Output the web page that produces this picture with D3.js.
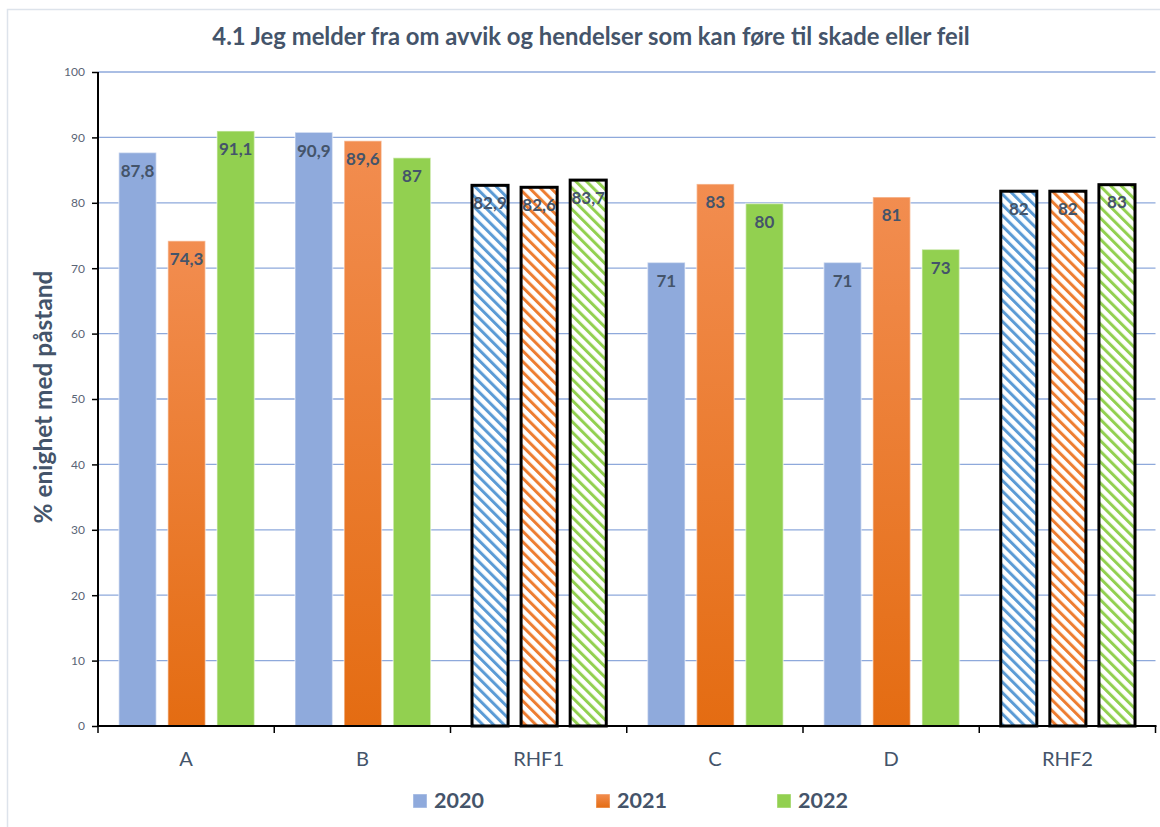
<!DOCTYPE html>
<html>
<head>
<meta charset="utf-8">
<script src="https://cdn.jsdelivr.net/npm/d3@7"></script>
<style>
  html, body { margin: 0; padding: 0; background: #fff; }
  svg { display: block; font-family: Lato, "Open Sans", sans-serif; }
</style>
</head>
<body>
<svg id="chart" width="1160" height="827"></svg>
<script>
const categories = ["A", "B", "RHF1", "C", "D", "RHF2"];
const hatchedCategories = ["RHF1", "RHF2"];
const years = ["2020", "2021", "2022"];
const values2020 = [87.8, 90.9, 82.9, 71, 71, 82];
const values2021 = [74.3, 89.6, 82.6, 83, 81, 82];
const values2022 = [91.1, 87, 83.7, 80, 73, 83];
const yTicks = [0, 10, 20, 30, 40, 50, 60, 70, 80, 90, 100];
const titleText = "4.1 Jeg melder fra om avvik og hendelser som kan føre til skade eller feil";
const yAxisLabel = "% enighet med påstand";

const seriesValues = [values2020, values2021, values2022];
const solidFills = ["#8FAADC", "url(#gradOrange)", "#92D050"];
const hatchColors = ["#5B9BD5", "#ED7D31", "#92D050"];
const textColor = "#44546A";

const svg = d3.select("#chart");
const defs = svg.append("defs");

function fitWidth(sel, target) {
  const fs = +sel.attr("font-size");
  const w = sel.node().getComputedTextLength();
  if (w > 0) sel.attr("font-size", fs * target / w);
  return sel;
}

// orange gradient
const g1 = defs.append("linearGradient").attr("id", "gradOrange")
  .attr("x1", 0).attr("y1", 0).attr("x2", 0).attr("y2", 1);
g1.append("stop").attr("offset", "0%").attr("stop-color", "#F28D50");
g1.append("stop").attr("offset", "100%").attr("stop-color", "#E46C12");

// hatch patterns
hatchColors.forEach((c, i) => {
  const p = defs.append("pattern").attr("id", "hatch" + i)
    .attr("patternUnits", "userSpaceOnUse")
    .attr("width", 7.5).attr("height", 7.5)
    .attr("patternTransform", "rotate(-45)");
  p.append("rect").attr("width", 7.5).attr("height", 7.5).attr("fill", "#fff");
  p.append("rect").attr("width", 3).attr("height", 7.5).attr("fill", c);
});

// outer border
svg.append("rect").attr("x", 7.5).attr("y", 9.5).attr("width", 1160).attr("height", 830)
  .attr("fill", "none").attr("stroke", "#DDE3EB").attr("stroke-width", 1.5);

const x0 = 98, x1 = 1155.5, yTop = 72, yBot = 726;
const x = d3.scaleBand().domain(categories).range([x0, x1]).padding(0);
const xi = d3.scaleBand().domain(years).range([20, x.bandwidth() - 19]).paddingInner(0.204);
const y = d3.scaleLinear().domain([0, 100]).range([yBot, yTop]);

// gridlines
svg.append("g").selectAll("line").data(yTicks.filter(t => t > 0)).join("line")
  .attr("x1", x0).attr("x2", x1)
  .attr("y1", d => y(d)).attr("y2", d => y(d))
  .attr("stroke", "#8EA9DB").attr("stroke-width", 1.3);

// y axis
const yAxis = svg.append("g").attr("transform", `translate(${x0},0)`)
  .call(d3.axisLeft(y).tickValues(yTicks).tickSize(6).tickPadding(7));
yAxis.select(".domain").attr("stroke", "#000").attr("stroke-width", 2)
  .attr("d", `M0,${yTop}V${yBot}`);
yAxis.selectAll(".tick line").attr("stroke", "#000").attr("stroke-width", 1.5);
yAxis.selectAll(".tick text").attr("fill", "#5A6576").attr("font-size", 12)
  .attr("font-family", "Lato, sans-serif");

// bars
const barsG = svg.append("g");
categories.forEach((cat, ci) => {
  const hatched = hatchedCategories.includes(cat);
  years.forEach((yr, si) => {
    const v = seriesValues[si][ci];
    const bx = x(cat) + xi(yr);
    const bw = xi.bandwidth();
    if (hatched) {
      barsG.append("rect")
        .attr("x", bx + 1.5).attr("y", y(v) + 1.5)
        .attr("width", bw - 3).attr("height", y(0) - y(v) - 1.5)
        .attr("fill", `url(#hatch${si})`)
        .attr("stroke", "#000").attr("stroke-width", 3);
    } else {
      barsG.append("rect")
        .attr("x", bx + 0.75).attr("y", y(v) + 0.75)
        .attr("width", bw - 1.5).attr("height", y(0) - y(v) - 0.75)
        .attr("fill", solidFills[si])
        .attr("stroke", "rgba(255,255,255,0.45)").attr("stroke-width", 1.5);
    }
    barsG.append("text")
      .attr("x", bx + bw / 2).attr("y", y(v) + 25)
      .attr("text-anchor", "middle")
      .attr("font-size", 17).attr("font-weight", "bold")
      .attr("fill", textColor)
      .text(String(v).replace(".", ","));
  });
});

// x axis
const xAxisG = svg.append("g");
xAxisG.append("line").attr("x1", x0 - 1).attr("x2", x1 + 1).attr("y1", yBot).attr("y2", yBot)
  .attr("stroke", "#000").attr("stroke-width", 2);
const boundaries = categories.map(c => x(c)).concat([x1]);
xAxisG.selectAll("line.tk").data(boundaries).join("line").attr("class", "tk")
  .attr("x1", d => d).attr("x2", d => d).attr("y1", yBot).attr("y2", yBot + 7)
  .attr("stroke", "#000").attr("stroke-width", 1.5);
const catLabels = xAxisG.selectAll("text").data(categories).join("text")
  .attr("x", d => x(d) + x.bandwidth() / 2).attr("y", 766)
  .attr("text-anchor", "middle").attr("font-size", 19)
  .attr("fill", textColor).text(d => d);
// scale category font so "RHF2" is ~51px wide
{
  const ref = catLabels.filter(d => d === "RHF2");
  const w = ref.node().getComputedTextLength();
  if (w > 0) catLabels.attr("font-size", 19 * 51 / w);
}

// title
const title = svg.append("text").attr("x", 591).attr("y", 45).attr("text-anchor", "middle")
  .attr("font-size", 20).attr("font-weight", "bold").attr("fill", textColor)
  .text(titleText);
fitWidth(title, 758);

// y axis label
const yl = svg.append("text").attr("transform", "translate(52,397) rotate(-90)")
  .attr("text-anchor", "middle").attr("font-size", 20).attr("font-weight", "bold")
  .attr("fill", textColor).text(yAxisLabel);
fitWidth(yl, 253);

// legend
const legendX = [413, 596, 777];
const legendFills = ["#8FAADC", "url(#gradOrange)", "#92D050"];
years.forEach((yr, i) => {
  svg.append("rect").attr("x", legendX[i]).attr("y", 794).attr("width", 14).attr("height", 14)
    .attr("fill", legendFills[i]).attr("stroke", "rgba(255,255,255,0.45)").attr("stroke-width", 1);
  svg.append("text").attr("x", legendX[i] + 21).attr("y", 808)
    .attr("font-size", 21.5).attr("font-weight", "bold").attr("fill", textColor).text(yr);
});
</script>
</body>
</html>
